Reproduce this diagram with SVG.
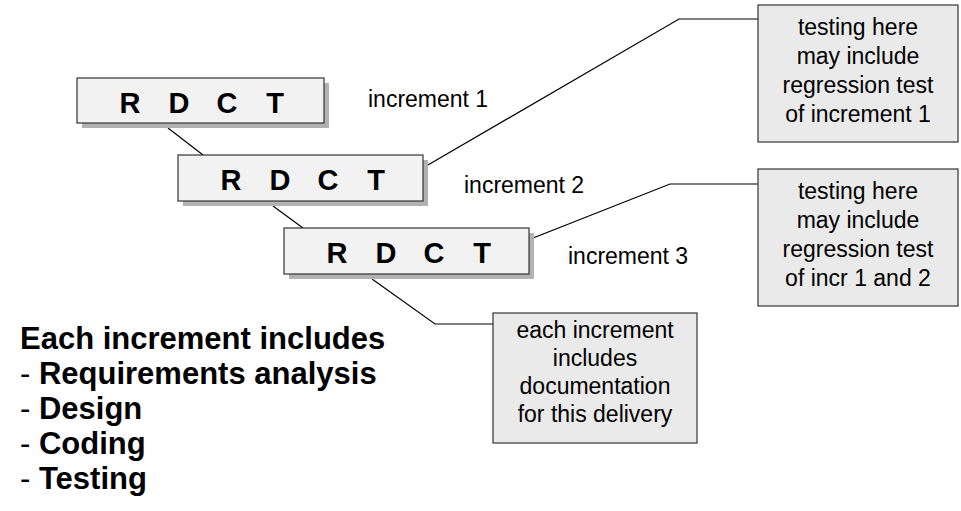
<svg xmlns="http://www.w3.org/2000/svg" width="961" height="511" viewBox="0 0 961 511">
<defs>
<style>
.shadow{fill:#b2b2b2;}
.box{fill:#f2f2f2;stroke:#333333;stroke-width:1.2;}
.callout{fill:#eaeaea;stroke:#333333;stroke-width:1.2;}
.letter{font-family:"Liberation Sans",Arial,sans-serif;font-weight:bold;font-size:29px;fill:#000;text-anchor:middle;}
.label{font-family:"Liberation Sans",Arial,sans-serif;font-size:23px;fill:#000;}
.ctext{font-family:"Liberation Sans",Arial,sans-serif;font-size:23px;fill:#000;text-anchor:middle;}
.btext{font-family:"Liberation Sans",Arial,sans-serif;font-size:31px;fill:#000;}
.conn{fill:none;stroke:#000;stroke-width:1.2;}
</style>
</defs>
<rect width="961" height="511" fill="#ffffff"/>
<g id="connectors">
<polyline class="conn" points="168,128 203,155"/>
<polyline class="conn" points="273,206 303,228"/>
<polyline class="conn" points="409,176 679,19 758,19"/>
<polyline class="conn" points="505,249 670,184 758,184"/>
<polyline class="conn" points="372,279 435,324 493,324"/>
</g>
<g id="increment1">
<rect class="shadow" x="82" y="83" width="247" height="45"/>
<rect class="box" x="77" y="78" width="247" height="45"/>
<text class="letter" x="130" y="113">R</text>
<text class="letter" x="179" y="113">D</text>
<text class="letter" x="227" y="113">C</text>
<text class="letter" x="275" y="113">T</text>
</g>
<g id="increment2">
<rect class="shadow" x="183" y="160" width="245" height="46"/>
<rect class="box" x="178" y="155" width="245" height="46"/>
<text class="letter" x="231" y="190">R</text>
<text class="letter" x="280" y="190">D</text>
<text class="letter" x="328" y="190">C</text>
<text class="letter" x="376" y="190">T</text>
</g>
<g id="increment3">
<rect class="shadow" x="289" y="233" width="245" height="46"/>
<rect class="box" x="284" y="228" width="245" height="46"/>
<text class="letter" x="337" y="263">R</text>
<text class="letter" x="386" y="263">D</text>
<text class="letter" x="434" y="263">C</text>
<text class="letter" x="482" y="263">T</text>
</g>
<g id="label1"><text class="label" x="368" y="107">increment 1</text></g>
<g id="label2"><text class="label" x="464" y="193">increment 2</text></g>
<g id="label3"><text class="label" x="568" y="264">increment 3</text></g>
<g id="callout1">
<rect class="callout" x="758" y="5" width="200" height="137"/>
<text class="ctext" x="858" y="35">testing here</text>
<text class="ctext" x="858" y="64">may include</text>
<text class="ctext" x="858" y="93">regression test</text>
<text class="ctext" x="858" y="122">of increment 1</text>
</g>
<g id="callout2">
<rect class="callout" x="758" y="169" width="200" height="137"/>
<text class="ctext" x="858" y="199">testing here</text>
<text class="ctext" x="858" y="228">may include</text>
<text class="ctext" x="858" y="257">regression test</text>
<text class="ctext" x="858" y="286">of incr 1 and 2</text>
</g>
<g id="callout3">
<rect class="callout" x="493" y="313" width="204" height="130"/>
<text class="ctext" x="595" y="338">each increment</text>
<text class="ctext" x="595" y="366">includes</text>
<text class="ctext" x="595" y="394">documentation</text>
<text class="ctext" x="595" y="422">for this delivery</text>
</g>
<g id="summary">
<text class="btext" x="20" y="349" font-weight="bold">Each increment includes</text>
<text class="btext" x="20" y="384">- <tspan font-weight="bold">Requirements analysis</tspan></text>
<text class="btext" x="20" y="419">- <tspan font-weight="bold">Design</tspan></text>
<text class="btext" x="20" y="454">- <tspan font-weight="bold">Coding</tspan></text>
<text class="btext" x="20" y="489">- <tspan font-weight="bold">Testing</tspan></text>
</g>
</svg>
